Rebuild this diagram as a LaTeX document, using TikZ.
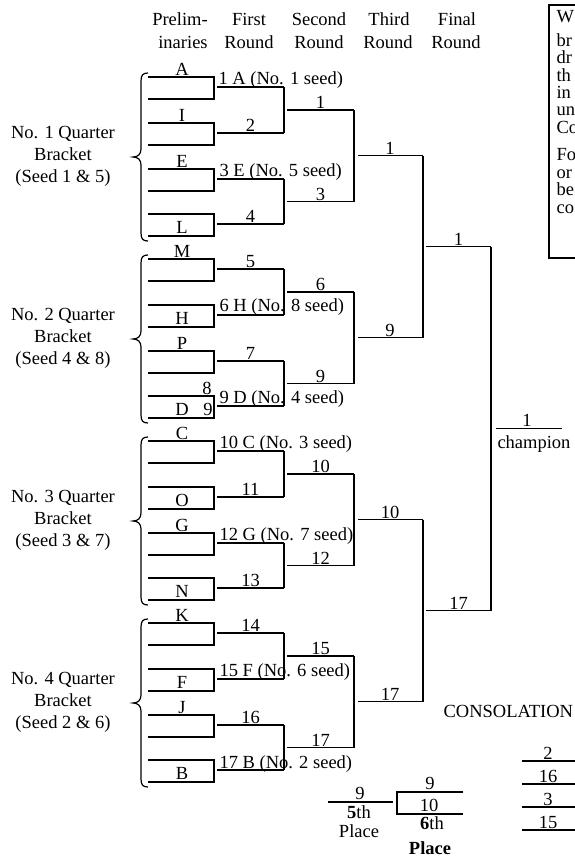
\documentclass[tikz,border=0pt]{standalone}
\usepackage{fontspec}
\setmainfont{Liberation Serif}
% lines of one quarter bracket, #1 = y of its top preliminary line
\newcommand\quarterlines[1]{%
  \foreach \o in {0,46,92,137} {
    \draw (148,#1+\o) -- (214,#1+\o) -- (214,#1+\o+22) -- (148,#1+\o+22);
    \draw (217,#1+\o+10) -- (284,#1+\o+10);
  }
  \draw (284,#1+10) -- (284,#1+56);
  \draw (284,#1+102) -- (284,#1+147);
  \draw (287,#1+33) -- (354,#1+33);
  \draw (287,#1+124.5) -- (354,#1+124.5);
  \draw (354,#1+33) -- (354,#1+124.5);
  \draw (358,#1+78.75) -- (423,#1+78.75);
  \draw (148,#1-4) .. controls (143,#1-4) and (141,#1-2) .. (141,#1+4)
     -- (141,#1+72) .. controls (141,#1+77) and (138,#1+80) .. (133,#1+80)
     .. controls (138,#1+80) and (141,#1+83) .. (141,#1+88)
     -- (141,#1+156) .. controls (141,#1+162) and (143,#1+164) .. (148,#1+164);
}
\newcommand\quartername[3]{%
  \node[lab] at (63,#1+61) {No. #2 Quarter};
  \node[lab] at (63,#1+83) {Bracket};
  \node[lab] at (63,#1+105) {(Seed #3)};
}
\begin{document}
\begin{tikzpicture}[x=1pt,y=-1pt,line width=1.2pt,
  font=\fontsize{18.5}{22}\selectfont,
  lab/.style={inner sep=0pt,anchor=base},
  seedlab/.style={inner sep=0pt,anchor=base west}]
\useasboundingbox (0,0) rectangle (575,857);

% column headers
\node[lab] (h1a) at (180,25) {Prelim-};
\node[lab] (h1b) at (183,48) {inaries};
\node[lab] (h2a) at (249,25) {First};
\node[lab] (h2b) at (249,48) {Round};
\node[lab] (h3a) at (319,25) {Second};
\node[lab] (h3b) at (319,48) {Round};
\node[lab] (h4a) at (389,25) {Third};
\node[lab] (h4b) at (388,48) {Round};
\node[lab] (h5a) at (457,25) {Final};
\node[lab] (h5b) at (456,48) {Round};

% quarter brackets
\quarterlines{77}
\quarterlines{259}
\quarterlines{441}
\quarterlines{623}
\quartername{77}{1}{1 \& 5}
\quartername{259}{2}{4 \& 8}
\quartername{441}{3}{3 \& 7}
\quartername{623}{4}{2 \& 6}

% Quarter 1 (T=77)
\node[lab] at (182,75) {A};
\node[lab] at (182,121) {I};
\node[lab] at (182,167) {E};
\node[lab] at (182,233) {L};
\node[seedlab] at (218,84) {1 A (No. 1 seed)};
\node[lab] at (250.5,131.5) {2};
\node[seedlab] at (219,176) {3 E (No. 5 seed)};
\node[lab] at (250.5,222.5) {4};
\node[lab] at (320.5,108.5) {1};
\node[lab] at (320.5,200) {3};
\node[lab] at (390,154.25) {1};

% Quarter 2 (T=259)
\node[lab] at (182,257) {M};
\node[lab] at (182,324) {H};
\node[lab] at (182,349) {P};
\node[lab] at (207,394) {8};
\node[lab] at (182,415) {D};
\node[lab] at (208,415) {9};
\node[lab] at (250.5,267.5) {5};
\node[seedlab] at (219,311) {6 H (No. 8 seed)};
\node[lab] at (250.5,359.5) {7};
\node[seedlab] at (219,403) {9 D (No. 4 seed)};
\node[lab] at (320.5,290.5) {6};
\node[lab] at (320.5,382) {9};
\node[lab] at (390,336.25) {9};

% Quarter 3 (T=441)
\node[lab] at (182,439) {C};
\node[lab] at (182,506) {O};
\node[lab] at (182,531) {G};
\node[lab] at (182,597) {N};
\node[seedlab] at (219,448) {10 C (No. 3 seed)};
\node[lab] at (250.5,495.5) {11};
\node[seedlab] at (219,540) {12 G (No. 7 seed)};
\node[lab] at (250.5,586.5) {13};
\node[lab] at (320.5,472.5) {10};
\node[lab] at (320.5,564) {12};
\node[lab] at (390,518.25) {10};

% Quarter 4 (T=623)
\node[lab] at (182,621) {K};
\node[lab] at (182,688) {F};
\node[lab] at (182,713) {J};
\node[lab] at (182,779) {B};
\node[lab] at (250.5,631.5) {14};
\node[seedlab] at (219,676) {15 F (No. 6 seed)};
\node[lab] at (250.5,723.5) {16};
\node[seedlab] at (219,768) {17 B (No. 2 seed)};
\node[lab] at (320.5,654.5) {15};
\node[lab] at (320.5,746) {17};
\node[lab] at (390,700.25) {17};

% final round and champion
\draw (423,155.75) -- (423,337.75);
\draw (426,246.75) -- (491,246.75);
\draw (423,519.75) -- (423,701.75);
\draw (426,610.75) -- (491,610.75);
\draw (491,246.75) -- (491,610.75);
\draw (496,428.75) -- (562,428.75);
\node[lab] at (458.5,245) {1};
\node[lab] at (458.5,609) {17};
\node[lab] at (527,426.5) {1};
\node[lab] at (534,448) {champion};

% 5th and 6th place
\draw (328,802) -- (393,802);
\node[lab] at (360,799.5) {9};
\node[lab] at (359,818) {\textbf{5}th};
\node[lab] at (359,837) {Place};
\draw (463,792) -- (397,792) -- (397,814) -- (463,814);
\node[lab] at (430,789) {9};
\node[lab] at (429,811.5) {10};
\node[lab] at (432,829) {\textbf{6}th};
\node[lab] at (430,854) {\textbf{Place}};

% consolation
\node[seedlab] at (443,717) {CONSOLATION};
\foreach \y/\t in {761/2,784/16,807/3,830/15} {
  \draw (522,\y) -- (590,\y);
  \node[lab] at (548,\y-2) {\t};
}

% note box at top right (cut by the page edge)
\draw[line width=1.8pt] (549,5) rectangle (600,258);
\foreach \y/\t in {22/W,46/br,63/dr,81/th,98/in,115/un,133/Co,160/Fo,178/or,195/be,213/co} {
  \node[seedlab] at (556,\y) {\t};
}
\end{tikzpicture}
\end{document}
